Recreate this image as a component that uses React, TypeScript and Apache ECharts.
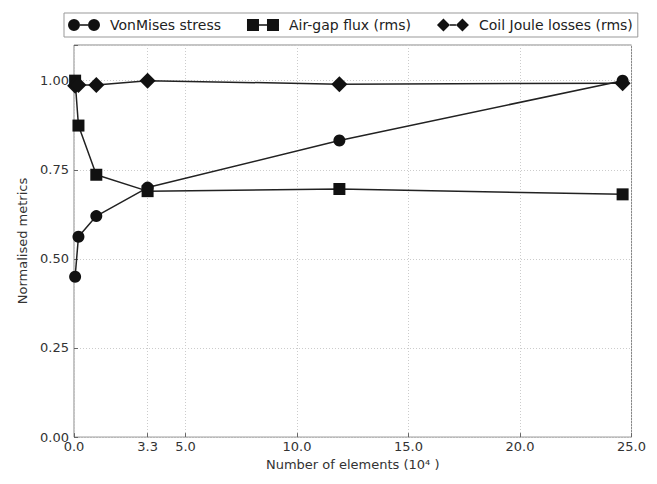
import React, { useEffect, useRef } from "react";
import * as echarts from "echarts";

const elements = [0.05, 0.2, 1.0, 3.3, 11.9, 24.6];
const vonMises = [0.45, 0.562, 0.62, 0.7, 0.832, 1.0];
const airGapFlux = [1.0, 0.874, 0.736, 0.69, 0.696, 0.681];
const coilLosses = [0.986, 0.988, 0.988, 1.0, 0.99, 0.993];
const xTicks = [0, 3.3, 5, 10, 15, 20, 25];
const seriesNames = ["VonMises stress", "Air-gap flux (rms)", "Coil Joule losses (rms)"];

const circleIcon =
  "path://M0,6.5 A6,6 0 1,1 12,6.5 A6,6 0 1,1 0,6.5 Z M12,5.7 L20,5.7 L20,7.3 L12,7.3 Z M20,6.5 A6,6 0 1,1 32,6.5 A6,6 0 1,1 20,6.5 Z";
const squareIcon =
  "path://M0,0.5 L12,0.5 L12,12.5 L0,12.5 Z M12,5.7 L20,5.7 L20,7.3 L12,7.3 Z M20,0.5 L32,0.5 L32,12.5 L20,12.5 Z";
const diamondIcon =
  "path://M0,6.5 L6.5,0 L13,6.5 L6.5,13 Z M13,5.7 L19,5.7 L19,7.3 L13,7.3 Z M19,6.5 L25.5,0 L32,6.5 L25.5,13 Z";

const FONT = "DejaVu Sans";

export default function App() {
  const ref = useRef<HTMLDivElement>(null);
  useEffect(() => {
    if (!ref.current) return;
    const chart = echarts.init(ref.current, null, { renderer: "svg" });
    const mk = (name: string, data: number[], symbol: string, size: number) => ({
      name,
      type: "line",
      data: elements.map((x, i) => [x, data[i]]),
      symbol,
      symbolSize: size,
      showAllSymbol: true,
      lineStyle: { color: "#222", width: 1.5 },
      itemStyle: { color: "#111", borderColor: "#111", borderWidth: 0 },
      emphasis: { disabled: true },
      clip: false,
    });
    chart.setOption({
      animation: false,
      backgroundColor: "#fff",
      textStyle: { fontFamily: FONT },
      grid: {
        left: 57,
        right: 16,
        top: 37,
        bottom: 30,
        show: true,
        borderColor: "#888",
        borderWidth: 1,
        containLabel: false,
      },
      legend: {
        left: 56,
        top: 5,
        padding: [5, 5, 5, 4],
        borderColor: "#999",
        borderWidth: 1,
        itemWidth: 32,
        itemHeight: 13,
        itemGap: 26,
        textStyle: { fontFamily: FONT, fontSize: 14, color: "#222", padding: [0, 0, 0, 5] },
        data: [
          { name: seriesNames[0], icon: circleIcon, itemStyle: { color: "#111" } },
          { name: seriesNames[1], icon: squareIcon, itemStyle: { color: "#111" } },
          { name: seriesNames[2], icon: diamondIcon, itemStyle: { color: "#111" } },
        ],
      },
      xAxis: {
        type: "value",
        min: 0,
        max: 25,
        name: "Number of elements (10\u2074 )",
        nameLocation: "middle",
        nameGap: 17,
        nameTextStyle: { fontFamily: FONT, fontSize: 13, color: "#333" },
        axisLine: { show: false },
        axisTick: { show: true, inside: true, length: 4, customValues: xTicks, lineStyle: { color: "#666" } },
        axisLabel: {
          customValues: xTicks,
          formatter: (v: number) => v.toFixed(1),
          fontFamily: FONT,
          fontSize: 13,
          color: "#333",
          margin: 3,
        },
        splitLine: { show: true, lineStyle: { color: "#ccc", type: [1, 2], width: 1 } },
      },
      yAxis: {
        type: "value",
        min: 0,
        max: 1.1,
        interval: 0.25,
        name: "Normalised metrics",
        nameLocation: "middle",
        nameGap: 45,
        nameTextStyle: { fontFamily: FONT, fontSize: 13, color: "#333" },
        axisLine: { show: false },
        axisTick: { show: true, inside: true, length: 4, lineStyle: { color: "#666" } },
        axisLabel: {
          formatter: (v: number) => (v > 1.05 ? "" : v.toFixed(2)),
          fontFamily: FONT,
          fontSize: 13,
          color: "#333",
          margin: 5,
        },
        splitLine: { show: true, lineStyle: { color: "#ccc", type: [1, 2], width: 1 } },
      },
      series: [
        mk(seriesNames[0], vonMises, "circle", 12),
        mk(seriesNames[1], airGapFlux, "rect", 12),
        mk(seriesNames[2], coilLosses, "diamond", 16),
      ],
    });
    return () => chart.dispose();
  }, []);
  return <div ref={ref} style={{ width: 641, height: 468 }} />;
}
